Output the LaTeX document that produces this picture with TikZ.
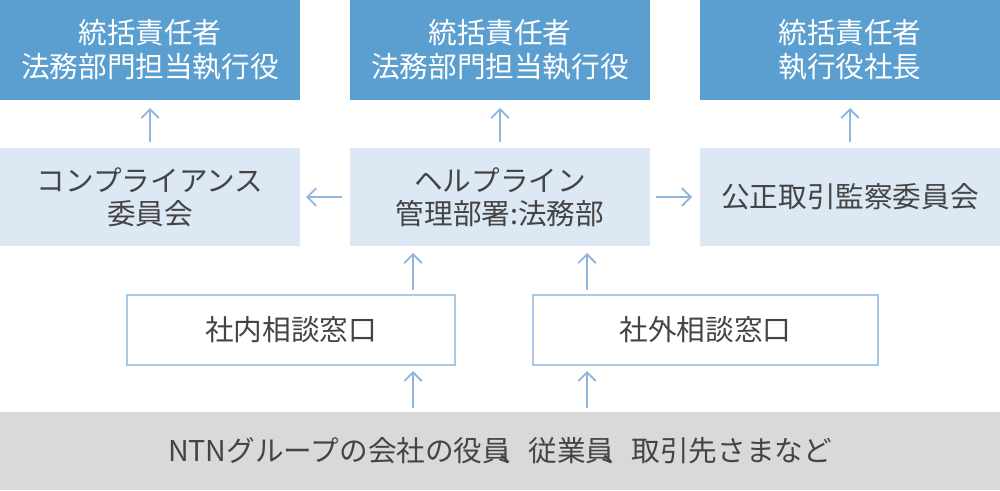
\documentclass[tikz,border=0pt]{standalone}
\usepackage{fontspec}
\setmainfont{Noto Sans CJK JP}
\usetikzlibrary{arrows.meta}
\definecolor{dblue}{HTML}{5B9FD1}
\definecolor{lblue}{HTML}{DCE8F4}
\definecolor{bord}{HTML}{A9C8E6}
\definecolor{gbar}{HTML}{D9D9D9}
\definecolor{txt}{HTML}{444444}
\definecolor{arr}{HTML}{8FB7DD}
\begin{document}
\begin{tikzpicture}[x=0.02cm,y=-0.02cm,
 f/.style={font=\fontsize{16.3}{19}\selectfont},
 top/.style={fill=dblue,draw=none,text=white,f,align=center},
 mid/.style={fill=lblue,draw=none,text=txt,f,align=center},
 low/.style={fill=white,draw=bord,line width=0.8pt,text=txt,f,align=center},
 ar/.style={draw=arr,line width=1.1pt,-{Straight Barb[length=5pt,width=10pt]}}]
\useasboundingbox (0,0) rectangle (1000,490);
\path[top] (0,0) rectangle (300,100) node[midway] (t1) {統括責任者\\法務部門担当執行役};
\path[top] (350,0) rectangle (650,100) node[midway] (t2) {統括責任者\\法務部門担当執行役};
\path[top] (700,0) rectangle (1000,100) node[midway] (t3) {統括責任者\\執行役社長};
\path[mid] (0,148) rectangle (300,246) node[midway] (m1) {コンプライアンス\\委員会};
\path[mid] (350,148) rectangle (650,246) node[midway] (m2) {ヘルプライン\\管理部署:法務部};
\path[mid] (700,148) rectangle (1000,246) node[midway] (m3) {公正取引監察委員会};
\path[low] (127,295) rectangle (455,365) node[midway] (l1) {社内相談窓口};
\path[low] (533,295) rectangle (878,365) node[midway] (l2) {社外相談窓口};
\path[fill=gbar] (0,412) rectangle (1000,490) node[midway,text=txt,f] (b) {NTNグループの会社の役員\hspace{-0.4em}、従業員\hspace{-0.4em}、取引先さまなど};
\coordinate (a1) at (150,142); \coordinate (a1e) at (150,108);
\coordinate (a2) at (500,142); \coordinate (a2e) at (500,108);
\coordinate (a3) at (850,142); \coordinate (a3e) at (850,108);
\draw[ar] (a1) -- (a1e); \draw[ar] (a2) -- (a2e); \draw[ar] (a3) -- (a3e);
\coordinate (h1) at (342,197); \coordinate (h1e) at (306,197);
\coordinate (h2) at (656,197); \coordinate (h2e) at (692,197);
\draw[ar] (h1) -- (h1e); \draw[ar] (h2) -- (h2e);
\coordinate (v1) at (413,290); \coordinate (v1e) at (413,253);
\coordinate (v2) at (587,290); \coordinate (v2e) at (587,253);
\draw[ar] (v1) -- (v1e); \draw[ar] (v2) -- (v2e);
\coordinate (w1) at (413,408); \coordinate (w1e) at (413,371);
\coordinate (w2) at (587,408); \coordinate (w2e) at (587,371);
\draw[ar] (w1) -- (w1e); \draw[ar] (w2) -- (w2e);
\end{tikzpicture}
\end{document}
